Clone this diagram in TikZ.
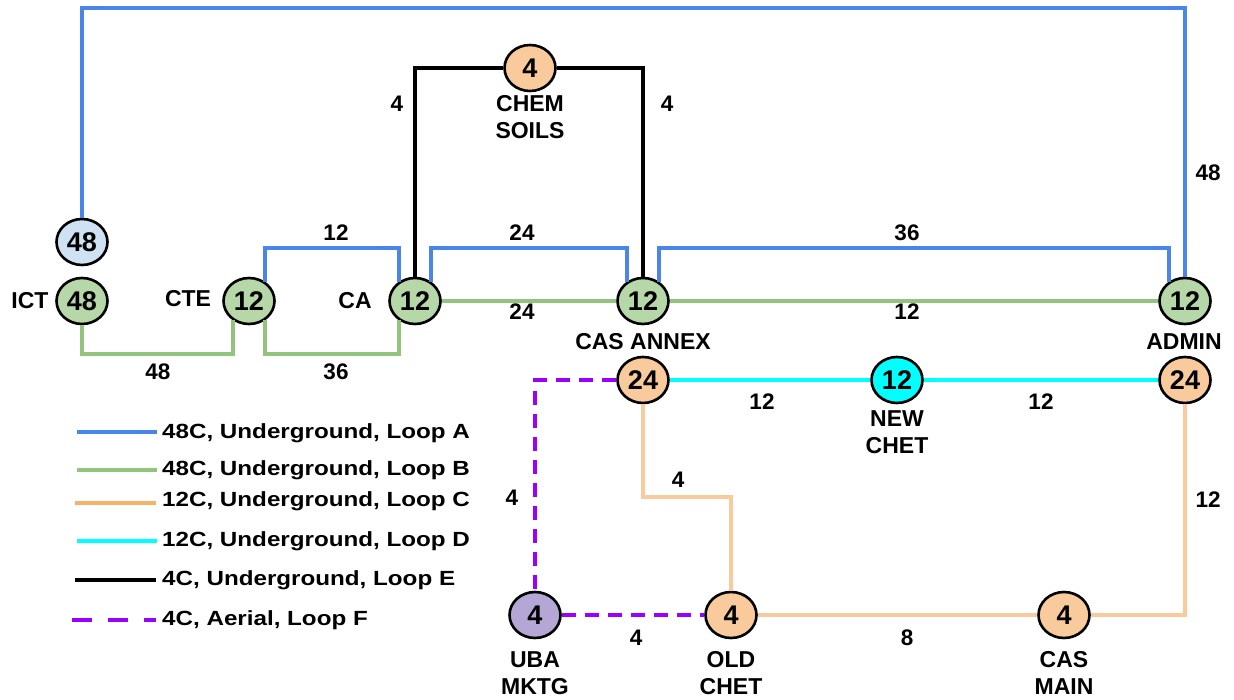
\documentclass[tikz,border=0pt]{standalone}
\usepackage{fontspec}
\setmainfont{Liberation Sans}
\newfontfamily\legendfont{Liberation Sans}[FakeStretch=1.18]
\usetikzlibrary{shapes.geometric}
\definecolor{cblue}{HTML}{4A86E8}
\definecolor{cgreen}{HTML}{93C47D}
\definecolor{corange}{HTML}{F9CB9C}
\definecolor{corangeleg}{HTML}{F6B26B}
\definecolor{ccyan}{HTML}{00FFFF}
\definecolor{cpurple}{HTML}{9900FF}
\definecolor{fgreen}{HTML}{B6D7A8}
\definecolor{fblue}{HTML}{CFE2F3}
\definecolor{forange}{HTML}{F9CB9C}
\definecolor{fpurple}{HTML}{B4A7D6}
\begin{document}
\begin{tikzpicture}[x=1pt,y=-1pt,
  hub/.style={ellipse,draw=black,line width=2.6pt,minimum width=51pt,minimum height=46pt,inner sep=0pt,
    font=\fontsize{27}{30}\selectfont\bfseries},
  gnode/.style={hub,fill=fgreen},
  bnode/.style={hub,fill=fblue},
  onode/.style={hub,fill=forange},
  cnode/.style={hub,fill=ccyan},
  pnode/.style={hub,fill=fpurple},
  nlabel/.style={font=\fontsize{23}{27}\selectfont\bfseries,align=center,inner sep=0pt},
  elab/.style={font=\fontsize{22.5}{26}\selectfont\bfseries,inner sep=0pt},
  loopA/.style={draw=cblue,line width=3.5pt},
  loopB/.style={draw=cgreen,line width=3.5pt},
  loopC/.style={draw=corange,line width=3.5pt},
  loopCleg/.style={draw=corangeleg,line width=3.5pt},
  loopD/.style={draw=ccyan,line width=3.5pt},
  loopE/.style={draw=black,line width=3.5pt},
  loopF/.style={draw=cpurple,line width=3.5pt,dash pattern=on 14pt off 9pt},
  loopFleg/.style={draw=cpurple,line width=3.5pt,dash pattern=on 20pt off 16pt},
  legtext/.style={font=\fontsize{20.5}{24}\legendfont\bfseries,anchor=west,inner sep=0pt}
]
\useasboundingbox (0,0) rectangle (1234,700);

% rows
\coordinate (rowTop) at (0,8);
\coordinate (rowA) at (0,248);
\coordinate (rowB) at (0,354);
\coordinate (rowC) at (0,497);

% nodes
\node[bnode] (icttop) at (82,242) {48};
\node[gnode] (ict) at (82,301) {48};
\node[gnode] (cte) at (249,301) {12};
\node[gnode] (ca) at (415,301) {12};
\node[gnode] (annex) at (643,301) {12};
\node[gnode] (admin) at (1185,301) {12};
\node[onode] (chem) at (530,68) {4};
\node[onode] (annexO) at (643,380) {24};
\node[cnode] (newchet) at (897,380) {12};
\node[onode] (adminO) at (1185,380) {24};
\node[pnode] (uba) at (535,615) {4};
\node[onode] (oldchet) at (731,615) {4};
\node[onode] (casmain) at (1064,615) {4};

% names
\node[nlabel] (nIct) at (30,301) {ICT};
\node[nlabel] (nCte) at (188,299) {CTE};
\node[nlabel] (nCa) at (355,301) {CA};
\node[nlabel] (nChem) at (530,117.5) {CHEM\\SOILS};
\node[nlabel] (nAnnex) at (643,342) {CAS ANNEX};
\node[nlabel] (nAdmin) at (1184,342) {ADMIN};
\node[nlabel] (nNew) at (897,432.5) {NEW\\CHET};
\node[nlabel] (nUba) at (535,673) {UBA\\MKTG};
\node[nlabel] (nOld) at (731,673) {OLD\\CHET};
\node[nlabel] (nMain) at (1064,673) {CAS\\MAIN};

% Loop A (blue)
\path[loopA] (icttop.north) -- (icttop.north |- rowTop) -| (admin.north);
\path[loopA] (cte.50) -- (cte.50 |- rowA) -| (ca.130);
\path[loopA] (ca.50) -- (ca.50 |- rowA) -| (annex.130);
\path[loopA] (annex.50) -- (annex.50 |- rowA) -| (admin.130);

% Loop B (green)
\path[loopB] (ict.south) -- (ict.south |- rowB) -| (cte.230);
\path[loopB] (cte.310) -- (cte.310 |- rowB) -| (ca.230);
\path[loopB] (ca.east) -- (annex.west);
\path[loopB] (annex.east) -- (admin.west);

% Loop E (black)
\path[loopE] (ca.north) -- (ca.north |- chem) -- (chem.west);
\path[loopE] (chem.east) -| (annex.north);

% Loop D (cyan)
\path[loopD] (annexO.east) -- (newchet.west);
\path[loopD] (newchet.east) -- (adminO.west);

% Loop C (orange)
\path[loopC] (annexO.south) -- (annexO.south |- rowC) -| (oldchet.north);
\path[loopC] (oldchet.east) -- (casmain.west);
\path[loopC] (casmain.east) -| (adminO.south);

% Loop F (purple dashed)
\path[loopF] (annexO.west) -| (uba.north);
\path[loopF] (uba.east) -- (oldchet.west);

% edge labels
\node[elab] (l1) at (336,233) {12};
\node[elab] (l2) at (522,233) {24};
\node[elab] (l3) at (907,233) {36};
\node[elab] (l4) at (1208,173) {48};
\node[elab] (l5) at (158,372) {48};
\node[elab] (l6) at (336,372) {36};
\node[elab] (l7) at (522,312) {24};
\node[elab] (l8) at (907,312) {12};
\node[elab] (l9) at (397,104) {4};
\node[elab] (l10) at (667,104) {4};
\node[elab] (l11) at (762,402) {12};
\node[elab] (l12) at (1041,402) {12};
\node[elab] (l13) at (678,480) {4};
\node[elab] (l14) at (907,638) {8};
\node[elab] (l15) at (1208,500) {12};
\node[elab] (l16) at (512,498) {4};
\node[elab] (l17) at (636,638) {4};

% legend
\coordinate (a1) at (77,432); \coordinate (a2) at (157,432);
\coordinate (b1) at (77,470); \coordinate (b2) at (157,470);
\coordinate (c1) at (75,503); \coordinate (c2) at (156,503);
\coordinate (d1) at (77,541); \coordinate (d2) at (157,541);
\coordinate (e1) at (75,580); \coordinate (e2) at (156,580);
\coordinate (f1) at (72,620); \coordinate (f2) at (156,620);
\path[loopA] (a1) -- (a2);
\path[loopB] (b1) -- (b2);
\path[loopCleg] (c1) -- (c2);
\path[loopD] (d1) -- (d2);
\path[loopE] (e1) -- (e2);
\path[loopFleg] (f1) -- (f2);
\node[legtext] (ta) at (162,433) {48C, Underground, Loop A};
\node[legtext] (tb) at (162,470) {48C, Underground, Loop B};
\node[legtext] (tc) at (162,501) {12C, Underground, Loop C};
\node[legtext] (td) at (162,541) {12C, Underground, Loop D};
\node[legtext] (te) at (162,580) {4C, Underground, Loop E};
\node[legtext] (tf) at (162,620) {4C, Aerial, Loop F};
\end{tikzpicture}
\end{document}
